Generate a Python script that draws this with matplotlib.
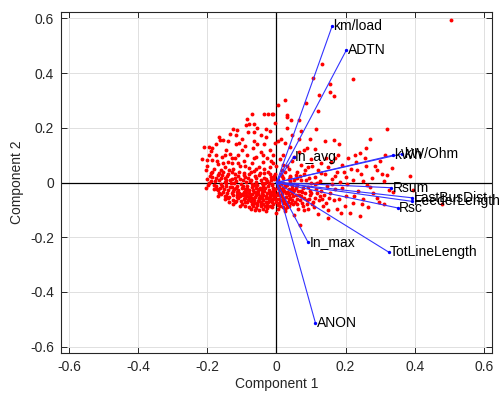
import numpy as np
import matplotlib
matplotlib.use("Agg")
import matplotlib.pyplot as plt

plt.rcParams['font.family'] = ['Liberation Sans', 'DejaVu Sans']

# Variable loadings on the first two principal components
var_names = ["km/load", "ADTN", "In_avg", "kWh", "kW/Ohm", "Rsum",
             "LastBusDist", "FeederLength", "Rsc", "In_max",
             "TotLineLength", "ANON"]
load_pc1 = [0.161, 0.202, 0.050, 0.337, 0.364, 0.331,
            0.393, 0.393, 0.351, 0.091, 0.324, 0.1125]
load_pc2 = [0.572, 0.484, 0.094, 0.100, 0.105, -0.019,
            -0.056, -0.069, -0.093, -0.218, -0.254, -0.513]

# Observation scores (component 1, component 2)
scores_text = """
-0.19 0.035 -0.17 0.028 -0.155 0.04 -0.14 0.03 -0.128 0.038 -0.11 0.025
-0.095 0.036 -0.08 0.03 -0.066 0.042 -0.05 0.027 -0.035 0.035 -0.02 0.03
-0.008 0.022 0.012 0.03 0.025 0.04
-0.2 0.012 -0.185 0.02 -0.165 0.01 -0.15 0.018 -0.135 0.008 -0.12 0.016
-0.105 0.012 -0.09 0.02 -0.075 0.01 -0.06 0.017 -0.045 0.008 -0.03 0.014
-0.015 0.019 0.003 0.01 0.018 0.016 0.035 0.012
-0.195 -0.002 -0.178 0.004 -0.16 -0.005 -0.148 0.002 -0.132 -0.003
-0.118 0.005 -0.102 -0.006 -0.088 0.001 -0.072 -0.004 -0.058 0.003
-0.043 -0.002 -0.028 0.004 -0.012 -0.005 0.005 0.002 0.02 -0.003 0.04 0.004
-0.205 -0.019 -0.175 -0.014 -0.162 -0.02 -0.145 -0.012 -0.13 -0.018
-0.115 -0.011 -0.1 -0.02 -0.085 -0.013 -0.07 -0.018 -0.055 -0.01
-0.04 -0.017 -0.025 -0.012 -0.01 -0.02 0.008 -0.014 0.025 -0.018 0.045 -0.011
-0.17 -0.028 -0.155 -0.034 -0.14 -0.026 -0.125 -0.032 -0.11 -0.027
-0.095 -0.035 -0.08 -0.029 -0.065 -0.033 -0.05 -0.025 -0.036 -0.031
-0.021 -0.027 -0.006 -0.034 0.01 -0.028 0.03 -0.033 0.05 -0.026
-0.16 -0.042 -0.145 -0.048 -0.13 -0.04 -0.115 -0.047 -0.1 -0.043
-0.086 -0.05 -0.072 -0.041 -0.058 -0.046 -0.043 -0.04 -0.03 -0.049
-0.015 -0.043 0.0 -0.047 0.015 -0.041 0.035 -0.046
-0.14 -0.058 -0.125 -0.063 -0.11 -0.056 -0.095 -0.062 -0.08 -0.057
-0.066 -0.064 -0.052 -0.058 -0.038 -0.063 -0.024 -0.056 -0.01 -0.062
0.006 -0.059 0.022 -0.064 0.04 -0.057
-0.12 -0.073 -0.1 -0.078 -0.085 -0.071 -0.07 -0.077 -0.055 -0.074
-0.04 -0.079 -0.025 -0.072 -0.01 -0.077 0.008 -0.074 0.028 -0.079
-0.08 -0.088 -0.06 -0.092 -0.045 -0.087 -0.028 -0.094 -0.012 -0.089
0.005 -0.095 0.02 -0.088
-0.03 -0.105 0.0 -0.11 0.025 -0.103 -0.05 -0.1
-0.142 0.022 -0.122 0.0 -0.108 -0.04 -0.092 -0.022 -0.078 0.006
-0.062 -0.052 -0.048 -0.02 -0.032 0.0 -0.018 -0.052 -0.003 -0.025
0.013 -0.006 0.028 -0.052 -0.137 -0.052 -0.118 -0.068 -0.097 0.008
-0.083 -0.064 -0.068 -0.026 -0.053 -0.066 -0.038 -0.008 -0.022 -0.068
-0.007 0.014 0.018 -0.068 -0.152 -0.025 -0.167 -0.04 -0.182 -0.008
-0.158 0.026 -0.128 0.012 -0.113 -0.054 -0.088 -0.045 -0.073 -0.066
-0.057 -0.036 -0.042 -0.058 -0.027 -0.04 -0.012 -0.01 0.003 -0.038
0.018 -0.02 0.033 -0.04 0.048 -0.05
-0.214 0.087 -0.2 0.084 -0.185 0.082 -0.171 0.08 -0.21 0.131 -0.195 0.131
-0.185 0.127 -0.19 0.115 -0.166 0.167 -0.154 0.157 -0.162 0.155
-0.133 0.176 -0.118 0.172 -0.125 0.194 -0.113 0.191 -0.109 0.145
-0.118 0.139 -0.083 0.184 -0.065 0.184 -0.08 0.215 -0.087 0.209
-0.065 0.215 -0.085 0.233 -0.072 0.249 -0.035 0.252 -0.024 0.252
-0.012 0.249 -0.031 0.196 -0.065 0.15 -0.055 0.139 -0.037 0.139
-0.2 0.06 -0.18 0.05 -0.17 0.068 -0.158 0.092 -0.15 0.058 -0.14 0.075
-0.135 0.105 -0.125 0.05 -0.12 0.088 -0.105 0.062 -0.1 0.118 -0.095 0.08
-0.085 0.1 -0.08 0.052 -0.07 0.07 -0.068 0.125 -0.058 0.095 -0.05 0.055
-0.045 0.11 -0.04 0.075 -0.03 0.165 -0.028 0.09 -0.02 0.12 -0.018 0.058
-0.01 0.1 -0.005 0.145 -0.003 0.218 -0.01 0.07 -0.09 0.135 -0.11 0.1
-0.145 0.12 -0.175 0.1 -0.16 0.045 -0.13 0.07 -0.06 0.048 -0.035 0.05
0.024 0.301 0.004 0.282 -0.01 0.249 0.029 0.245 0.031 0.239 0.042 0.228
0.064 0.228 0.106 0.383 0.132 0.432 0.124 0.319 0.156 0.33 0.165 0.316
0.154 0.359 0.221 0.379 0.115 0.197 0.319 0.194 0.098 0.16 0.167 0.157
0.005 0.15 0.012 0.16 0.025 0.145 0.089 0.127 0.112 0.123 0.26 0.127
0.242 0.109 0.228 0.102 0.17 0.09 0.314 0.102 0.334 0.054 0.319 0.029
0.385 0.023 0.505 0.593
0.01 0.085 0.02 0.065 0.035 0.05 0.045 0.08 0.06 0.04 0.07 0.065 0.08 0.03
0.09 0.055 0.1 0.085 0.11 0.02 0.12 0.045 0.13 0.07 0.14 0.03 0.15 0.055
0.16 0.012 0.175 0.04 0.19 0.065 0.2 0.02 0.215 0.048 0.23 0.075 0.245 0.03
0.26 0.06 0.275 0.015 0.29 0.045 0.3 0.08 0.31 0.005 0.06 0.015 0.085 0.008
0.125 0.005 0.185 0.003
0.06 -0.008 0.07 -0.03 0.08 -0.055 0.09 -0.015 0.1 -0.04 0.105 -0.07
0.115 -0.025 0.125 -0.05 0.135 -0.085 0.145 -0.012 0.155 -0.038
0.165 -0.065 0.175 -0.095 0.187 -0.113 0.19 -0.02 0.2 -0.048 0.213 -0.111
0.22 -0.075 0.235 -0.03 0.24 -0.123 0.25 -0.06 0.265 -0.09 0.28 -0.04
0.295 -0.07 0.31 -0.08 0.324 -0.026 0.338 -0.035 0.396 -0.026 0.478 -0.077
0.069 -0.157 0.05 -0.12 0.08 -0.1 0.12 -0.115 0.15 -0.13 0.06 -0.08
0.09 -0.095 0.035 -0.085 0.045 -0.065 0.075 -0.075 0.11 -0.005
0.005 -0.02 0.015 -0.035 0.025 -0.005 0.035 -0.025 0.045 -0.04 0.055 -0.02
0.065 -0.045 0.04 0.025 0.055 0.028 0.07 0.01 0.015 0.045 0.03 0.06
0.05 0.095 0.065 0.11 0.08 0.12 0.02 0.1 0.04 0.13 0.095 -0.06 0.1 0.0
0.13 -0.03 0.16 -0.005 0.17 0.025 0.205 -0.005 0.22 0.01 0.25 0.005
0.27 -0.015
-0.185 0.04 -0.172 -0.022 -0.165 0.035 -0.157 -0.012 -0.147 0.01
-0.143 -0.037 -0.136 0.045 -0.127 -0.045 -0.12 0.03 -0.116 -0.02
-0.107 0.04 -0.103 -0.066 -0.098 -0.012 -0.094 0.028 -0.09 -0.07
-0.087 -0.035 -0.082 0.016 -0.077 -0.05 -0.074 0.04 -0.069 -0.085
-0.064 -0.01 -0.061 0.025 -0.056 -0.082 -0.053 -0.042 -0.047 0.035
-0.044 -0.07 -0.041 -0.026 -0.037 0.018 -0.033 -0.085 -0.029 -0.058
-0.026 0.04 -0.023 -0.003 -0.019 -0.035 -0.016 0.008 -0.013 -0.073
-0.009 -0.045 -0.004 0.03 0.0 -0.06 0.004 -0.012 0.009 -0.085
0.012 -0.05 0.016 0.022 0.021 -0.03 0.024 -0.095 0.029 -0.01
0.032 -0.07 0.038 0.02 0.042 -0.03 0.047 -0.08 0.052 0.01 0.058 -0.06
0.062 -0.095 0.067 0.022 0.072 -0.05 0.078 -0.02 0.083 0.045 0.087 -0.08
0.093 0.015 0.098 -0.03 0.103 0.06 0.108 -0.09 0.118 0.0 0.122 -0.065
0.128 0.035 0.138 -0.045 0.142 0.09 0.148 -0.1 0.158 0.075 0.168 -0.025
0.178 0.1 0.182 -0.06 0.195 0.04 0.198 -0.085 0.208 0.09 0.225 -0.05
0.232 0.045 0.248 -0.08 0.255 0.09 0.262 -0.01 0.285 0.06 0.29 -0.055
0.305 0.03 0.27 0.16 0.18 0.14 0.14 0.15 0.065 0.16 0.07 0.19 0.12 0.26
0.085 0.29 0.045 0.175 0.03 0.2 -0.02 0.19 -0.045 0.175 -0.055 0.2
-0.1 0.16 -0.14 0.15 -0.175 0.14 -0.195 0.1 -0.205 0.045 -0.198 -0.01
-0.192 0.025 -0.18 -0.025 -0.15 -0.05 -0.138 -0.07 -0.105 -0.085
-0.075 -0.095 -0.05 -0.06 -0.02 -0.085 -0.155 0.07 -0.13 0.09 -0.09 0.06
-0.065 0.09 -0.04 0.1 -0.015 0.08 0.0 0.06 -0.112 0.073 -0.148 0.1
-0.135 -0.015 -0.124 -0.025 -0.113 -0.035 -0.106 -0.05 -0.097 -0.045
-0.091 -0.055 -0.084 -0.022 -0.079 -0.04 -0.071 -0.055 -0.066 -0.075
-0.059 -0.02 -0.054 -0.032 -0.049 -0.048 -0.046 -0.078 -0.039 -0.045
-0.034 -0.02 -0.031 -0.07 -0.027 -0.082 -0.02 -0.045 -0.017 -0.063
-0.011 -0.03 -0.006 -0.052 -0.002 -0.07 0.003 -0.082 0.007 -0.045
0.011 -0.065 0.014 -0.022 0.019 -0.055 0.023 -0.075 0.027 -0.038
0.031 -0.09 0.036 -0.06 0.041 -0.075 0.044 -0.022 0.049 -0.035
0.053 -0.07 0.057 -0.045 0.063 -0.03 0.068 -0.065 0.073 -0.035
0.077 -0.085 0.082 -0.04 0.088 -0.065 0.096 -0.045 0.102 -0.08
0.112 -0.055 0.117 -0.04 0.132 -0.06 0.143 -0.075 0.152 -0.055
-0.145 -0.002 -0.16 0.015 -0.175 0.015 -0.19 0.005 -0.168 -0.05
-0.15 -0.062 -0.127 -0.08 -0.09 -0.085 -0.062 -0.1 -0.04 -0.095
"""
scores = np.array(scores_text.split(), dtype=float).reshape(-1, 2)
score_pc1 = scores[:, 0]
score_pc2 = scores[:, 1]

ticks = [-0.6, -0.4, -0.2, 0, 0.2, 0.4, 0.6]
tick_labels = ["-0.6", "-0.4", "-0.2", "0", "0.2", "0.4", "0.6"]
lim = 0.623

fig = plt.figure(figsize=(4.99, 3.94), dpi=100)
ax = fig.add_axes([0.1222, 0.104, 0.8638, 0.8655])

dark = (0.15, 0.15, 0.15)
ax.grid(True, color=(0.88, 0.88, 0.88), linewidth=0.7)
ax.set_axisbelow(True)

ax.axhline(0, color='black', linewidth=0.9, zorder=1)
ax.axvline(0, color='black', linewidth=0.9, zorder=1)

ax.plot(score_pc1, score_pc2, 'o', color='red', markersize=2.8,
        markeredgewidth=0, zorder=2)

for name, px, py in zip(var_names, load_pc1, load_pc2):
    ax.plot([0, px], [0, py], color='#3333ff', linewidth=0.8, zorder=3)
    ax.plot([px], [py], 'o', color='#0000ff', markersize=2.4,
            markeredgewidth=0, zorder=4)
    ax.text(px + 0.004, py, name, ha='left', va='center', fontsize=10,
            color='black', zorder=5)

ax.set_xlim(-lim, lim)
ax.set_ylim(-lim, lim)
ax.set_xticks(ticks)
ax.set_xticklabels(tick_labels)
ax.set_yticks(ticks)
ax.set_yticklabels(tick_labels)
ax.tick_params(direction='in', length=4, width=0.7, colors=dark,
               labelsize=10, top=True, right=True, pad=5)
for sp in ax.spines.values():
    sp.set_color(dark)
    sp.set_linewidth(0.8)

ax.set_xlabel("Component 1", fontsize=10, color=dark, labelpad=2)
ax.set_ylabel("Component 2", fontsize=10, color=dark, labelpad=4)

fig.savefig("out.png", dpi=100)
